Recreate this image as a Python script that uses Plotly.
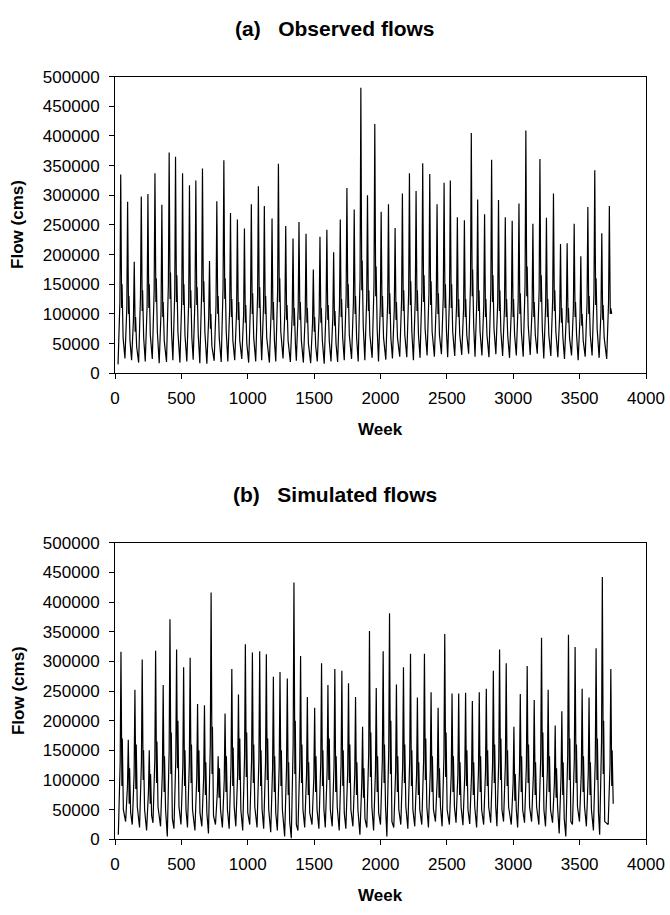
import plotly.graph_objects as go

# ---------------- data (flows in thousands of cms) ----------------
# (a) Observed flows: annual peaks and surrounding readings
obs_peak_week = [43,95,145,198,248,301,353,408,456,509, 561,609,659,712,767,820,870,922,975,1027,
                 1080,1125,1183,1231,1286,1341,1386,1439,1494,1544, 1596,1647,1697,1747,1802,1852,1902,1957,2005,2060,
                 2110,2165,2218,2268,2318,2371,2426,2479,2526,2579, 2632,2684,2732,2784,2837,2889,2940,2992,3043,3095,
                 3148,3201,3250,3303,3356,3406,3459,3509,3562,3614, 3667,3724]
obs_peak = [335,289,188,298,302,337,284,372,365,337, 317,325,345,189,290,359,270,259,244,285,
            315,282,261,353,248,227,255,235,175,230, 242,204,259,312,276,481,300,420,272,285,
            245,303,337,307,354,336,285,321,325,263, 258,405,293,268,360,292,263,257,286,409,
            252,361,262,303,218,219,252,197,280,342, 236,282]
obs_trough = [15,25,22,18,20,24,17,19,22,18, 20,23,17,16,21,19,20,22,24,18,
              20,22,18,20,25,19,21,18,17,20, 16,20,19,22,24,20,22,26,20,23,
              25,28,27,22,26,30,28,32,27,29, 31,33,28,30,27,32,29,26,30,28,
              31,33,25,29,27,24,30,22,28,30, 26,24]
obs_rise = [120,110,90,130,115,140,105,150,135,125, 120,130,140,95,115,145,110,105,100,120,
            130,115,110,140,105,100,110,100,85,100, 110,95,115,130,120,160,125,150,115,120,
            110,125,135,125,140,135,120,130,130,115, 110,150,125,115,140,120,110,110,120,150,
            110,140,115,125,100,100,110,95,120,135, 105,120]
obs_post = [200,180,120,190,185,210,175,230,220,200, 195,200,210,120,180,220,165,160,150,175,
            195,175,160,215,155,140,160,145,115,145, 150,130,160,195,170,280,185,250,170,175,
            155,185,205,190,215,205,175,195,200,165, 160,240,180,165,220,180,165,160,175,245,
            155,220,160,185,140,140,155,125,170,210, 145,175]
obs_dip = [110,100,70,105,110,120,95,125,120,115, 110,115,120,75,100,125,95,90,85,100,
           110,100,90,120,90,80,90,85,70,85, 90,80,95,110,100,140,105,130,95,100,
           90,105,115,105,120,115,100,110,110,95, 95,130,105,95,120,105,95,95,100,130,
           95,120,95,105,85,85,95,80,100,115, 90,100]
obs_bump = [150,130,95,140,150,160,120,170,165,150, 140,145,155,100,130,160,125,120,115,135,
            145,130,120,160,115,110,120,110,95,110, 115,105,125,150,130,190,140,180,130,135,
            120,140,155,140,165,155,135,150,150,125, 125,175,140,125,165,140,125,125,135,180,
            120,165,125,140,110,110,120,100,130,160, 115,110]
obs_late = [60,55,45,60,65,70,55,70,70,65, 60,65,70,45,60,70,55,55,50,60,
            65,60,55,70,55,50,55,50,45,55, 55,50,60,65,60,80,65,75,60,60,
            60,65,70,65,75,70,65,70,70,65, 65,80,70,65,75,70,65,65,70,80,
            65,75,65,70,60,60,65,55,65,75, 60,100]

# (b) Simulated flows: annual peaks and surrounding readings
sim_peak_week = [45,100,150,205,258,306,363,414,464,517, 566,622,674,724,777,829,880,930,982,1035,
                 1090,1140,1193,1243,1298,1348,1398,1449,1504,1556, 1604,1656,1709,1759,1812,1865,1917,1968,2020,2068,
                 2120,2173,2226,2278,2331,2381,2434,2484,2539,2589, 2641,2692,2744,2797,2850,2897,2947,3005,3053,3105,
                 3158,3213,3263,3316,3366,3416,3466,3519,3571,3624, 3671,3735]
sim_peak = [316,168,252,303,150,318,260,371,320,290, 306,228,226,416,140,212,287,244,329,315,
            317,312,274,282,271,433,309,240,222,297, 260,287,284,263,240,190,351,255,317,381,
            261,290,313,239,313,248,222,346,246,246, 247,233,248,254,284,320,297,190,245,292,
            235,340,252,192,216,345,324,254,239,322, 442,287]
sim_trough = [8,30,25,20,15,28,22,5,18,25, 20,15,22,10,25,20,18,22,15,25,
              20,18,12,15,5,2,15,20,25,18, 20,22,15,18,22,8,20,15,25,5,
              20,25,18,22,25,20,30,22,25,28, 24,26,20,25,28,22,30,25,20,28,
              30,25,22,28,10,5,25,30,22,15, 8,25]
sim_rise = [130,90,110,130,80,135,115,150,135,125, 130,105,105,160,80,100,125,110,140,135,
            135,130,120,125,120,160,130,110,105,130, 115,125,125,115,110,95,145,115,135,150,
            115,125,135,110,135,115,105,140,110,110, 110,110,115,115,125,135,130,95,115,125,
            110,140,115,95,105,140,135,115,110,135, 165,125]
sim_post = [190,110,150,180,100,190,155,220,190,175, 185,140,135,240,95,130,170,145,195,190,
            190,185,165,170,160,250,185,145,135,175, 155,170,170,160,145,115,210,150,190,225,
            155,175,185,145,185,150,135,205,150,150, 150,140,150,155,170,190,180,115,150,175,
            145,200,150,115,130,205,195,155,145,195, 260,175]
sim_dip = [90,60,85,100,60,95,80,110,120,90, 95,80,75,110,70,80,90,100,105,95,
           90,100,80,90,75,110,95,75,80,90, 100,80,90,95,75,70,105,80,95,110,
           80,95,90,75,100,80,70,105,80,75, 90,75,80,90,95,100,90,65,80,95,
           75,105,80,70,75,100,95,80,75,100, 110,90]
sim_bump = [170,120,160,150,110,165,140,180,200,150, 160,150,130,190,120,140,155,170,180,160,
            150,170,140,150,130,200,160,130,140,150, 170,140,150,160,130,120,180,140,160,200,
            140,160,150,130,170,140,120,180,140,130, 150,130,140,150,160,170,150,110,140,160,
            130,180,140,120,130,170,160,140,130,170, 200,150]
sim_late = [50,45,55,50,40,55,50,35,55,50, 50,45,45,40,50,50,55,50,45,55,
            50,50,45,50,30,25,50,45,50,50, 50,55,45,50,50,35,55,45,55,30,
            50,55,50,50,55,50,55,50,55,55, 50,55,50,55,55,50,55,50,50,55,
            55,50,50,55,35,30,55,55,50,45, 30,60]

x_ticks = [0, 500, 1000, 1500, 2000, 2500, 3000, 3500, 4000]
y_ticks = [0, 50000, 100000, 150000, 200000, 250000, 300000, 350000, 400000, 450000, 500000]

# week offsets of the sampled readings around each annual peak
OFFS = [-20, -6, 0, 4, 7, 10, 18]


def build(pw, tr, ri, pk, po, di, bu, la):
    xs, ys = [], []
    for i, w in enumerate(pw):
        vals = [tr[i], ri[i], pk[i], po[i], di[i], bu[i], la[i]]
        for o, v in zip(OFFS, vals):
            xs.append(w + o)
            ys.append(v * 1000)
    return xs, ys


xa, ya = build(obs_peak_week, obs_trough, obs_rise, obs_peak, obs_post, obs_dip, obs_bump, obs_late)
xb, yb = build(sim_peak_week, sim_trough, sim_rise, sim_peak, sim_post, sim_dip, sim_bump, sim_late)

FONT = "Liberation Sans, Arial, Helvetica, sans-serif"
W, H = 670, 915
L_PX, R_PX = 115, 646          # plot area left/right in pixels
A_TOP, A_BOT = 69, 372         # panel (a) plot area top/bottom
B_TOP, B_BOT = 545, 848        # panel (b)


def py(pix):
    return 1 - pix / H


fig = go.Figure()
fig.add_trace(go.Scatter(x=xa, y=ya, mode="lines", line=dict(color="black", width=1.2),
                         xaxis="x", yaxis="y", showlegend=False, hoverinfo="skip"))
fig.add_trace(go.Scatter(x=xb, y=yb, mode="lines", line=dict(color="black", width=1.2),
                         xaxis="x2", yaxis="y2", showlegend=False, hoverinfo="skip"))

axis_common = dict(showgrid=False, zeroline=False, showline=True, linecolor="black", linewidth=1,
                   mirror=True, ticks="outside", ticklen=5, tickcolor="black",
                   tickfont=dict(family=FONT, size=17, color="black"))
x_common = dict(axis_common, range=[0, 4000], tickvals=x_ticks, ticklabelstandoff=4, domain=[0, 1])
y_common = dict(axis_common, range=[0, 500000], tickvals=y_ticks, tickformat="d", ticklabelstandoff=6)

fig.update_layout(
    width=W, height=H,
    paper_bgcolor="white", plot_bgcolor="white",
    margin=dict(l=L_PX, r=W - R_PX, t=0, b=0),
    showlegend=False,
    xaxis=dict(x_common, anchor="y"),
    yaxis=dict(y_common, domain=[py(A_BOT), py(A_TOP)], anchor="x"),
    xaxis2=dict(x_common, anchor="y2"),
    yaxis2=dict(y_common, domain=[py(B_BOT), py(B_TOP)], anchor="x2"),
)

bold = dict(family=FONT, color="black")
ann = []
for title, top, bot in [("(a)\u00a0\u00a0\u00a0Observed flows", A_TOP, A_BOT),
                        ("(b)\u00a0\u00a0\u00a0Simulated flows", B_TOP, B_BOT)]:
    ann.append(dict(text="<b>" + title + "</b>", xref="paper", yref="paper",
                    x=(W / 2 - L_PX) / (R_PX - L_PX), y=py(top - 49), showarrow=False,
                    font=dict(bold, size=21), xanchor="center", yanchor="middle"))
    ann.append(dict(text="<b>Week</b>", xref="paper", yref="paper", x=0.5, y=py(bot + 57),
                    showarrow=False, font=dict(bold, size=17), xanchor="center", yanchor="middle"))
    ann.append(dict(text="<b>Flow (cms)</b>", xref="paper", yref="paper",
                    x=(18 - L_PX) / (R_PX - L_PX), y=py((top + bot) / 2), textangle=-90,
                    showarrow=False, font=dict(bold, size=17), xanchor="center", yanchor="middle"))
fig.update_layout(annotations=ann)

fig.write_html("out.html", config={"displayModeBar": False},
               post_script="document.body.style.margin='0';document.body.style.overflow='hidden';")
